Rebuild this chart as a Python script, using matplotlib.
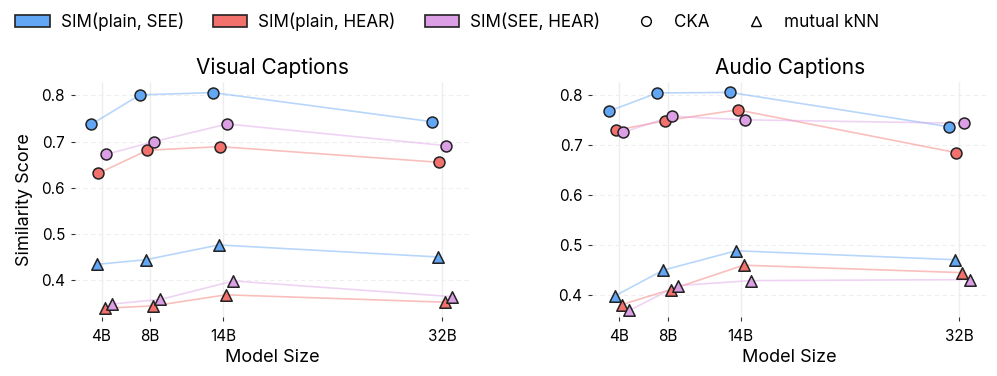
import matplotlib.pyplot as plt
from matplotlib.patches import Patch
from matplotlib.lines import Line2D

plt.rcParams['font.family'] = ['Inter', 'DejaVu Sans']

sizes = [4, 8, 14, 32]
size_labels = ['4B', '8B', '14B', '32B']
pairs = ['SIM(plain, SEE)', 'SIM(plain, HEAR)', 'SIM(SEE, HEAR)']

# visual captions
vis_cka = {
    'SIM(plain, SEE)': [0.737, 0.801, 0.806, 0.743],
    'SIM(plain, HEAR)': [0.631, 0.681, 0.689, 0.655],
    'SIM(SEE, HEAR)': [0.672, 0.700, 0.738, 0.691],
}
vis_knn = {
    'SIM(plain, SEE)': [0.434, 0.444, 0.476, 0.450],
    'SIM(plain, HEAR)': [0.339, 0.344, 0.368, 0.352],
    'SIM(SEE, HEAR)': [0.348, 0.358, 0.398, 0.364],
}

# audio captions
aud_cka = {
    'SIM(plain, SEE)': [0.768, 0.805, 0.806, 0.737],
    'SIM(plain, HEAR)': [0.730, 0.749, 0.771, 0.685],
    'SIM(SEE, HEAR)': [0.726, 0.758, 0.751, 0.744],
}
aud_knn = {
    'SIM(plain, SEE)': [0.397, 0.449, 0.488, 0.470],
    'SIM(plain, HEAR)': [0.380, 0.410, 0.459, 0.444],
    'SIM(SEE, HEAR)': [0.368, 0.418, 0.428, 0.430],
}

colors = {'SIM(plain, SEE)': '#62a6f6',
          'SIM(plain, HEAR)': '#f2716c',
          'SIM(SEE, HEAR)': '#dc9fe6'}
# small horizontal dodge so markers don't overlap
cka_shift = [-0.85, -0.25, 0.35]
knn_shift = [-0.36, 0.25, 0.85]

fig = plt.figure(figsize=(9.97, 3.76), dpi=100)
ax1 = fig.add_axes([0.075, 0.157, 0.396, 0.625])
ax2 = fig.add_axes([0.594, 0.157, 0.396, 0.625])


def draw(ax, cka, knn, title, ylim, ylabel):
    for x in sizes:
        ax.axvline(x, color='#eeeeee', lw=1, zorder=0)
    for y in [0.4, 0.5, 0.6, 0.7, 0.8]:
        ax.axhline(y, color='#eeeeee', lw=0.8, ls=(0, (4, 3)), zorder=0)
    for i, p in enumerate(pairs):
        c = colors[p]
        xs = [x + cka_shift[i] for x in sizes]
        ax.plot(xs, cka[p], color=c, alpha=0.45, lw=1.2, zorder=2)
        ax.scatter(xs, cka[p], s=62, marker='o', color=c,
                   edgecolor='#222222', linewidth=1.1, zorder=3)
        xs = [x + knn_shift[i] for x in sizes]
        ax.plot(xs, knn[p], color=c, alpha=0.45, lw=1.2, zorder=2)
        ax.scatter(xs, knn[p], s=68, marker='^', color=c,
                   edgecolor='#222222', linewidth=1.1, zorder=3)
    ax.set_xlim(1.8, 34.27)
    ax.set_ylim(*ylim)
    ax.set_xticks(sizes)
    ax.set_xticklabels(size_labels)
    ax.set_yticks([0.4, 0.5, 0.6, 0.7, 0.8])
    ax.tick_params(labelsize=11, length=3, width=0.8, color='#333333', pad=4)
    ax.tick_params(axis='x', pad=6)
    for sp in ax.spines.values():
        sp.set_visible(False)
    ax.set_title(title, fontsize=15, pad=6)
    ax.set_xlabel('Model Size', fontsize=13, labelpad=3)
    if ylabel:
        ax.set_ylabel('Similarity Score', fontsize=13, labelpad=6)


draw(ax1, vis_cka, vis_knn, 'Visual Captions', (0.32, 0.829), True)
draw(ax2, aud_cka, aud_knn, 'Audio Captions', (0.355, 0.827), False)

handles = [Patch(facecolor=colors[p], edgecolor='#222222', lw=1.2) for p in pairs]
handles += [Line2D([], [], marker='o', ls='', markerfacecolor='white',
                   markeredgecolor='black', markersize=7),
            Line2D([], [], marker='^', ls='', markerfacecolor='white',
                   markeredgecolor='black', markersize=7)]
labels = pairs + ['CKA', 'mutual kNN']
fig.legend(handles, labels, loc='center left', bbox_to_anchor=(0.0, 0.941),
           ncol=5, frameon=False, fontsize=12.3, handlelength=2.0,
           handletextpad=0.65, columnspacing=1.7)

fig.savefig('out.png', dpi=100)
